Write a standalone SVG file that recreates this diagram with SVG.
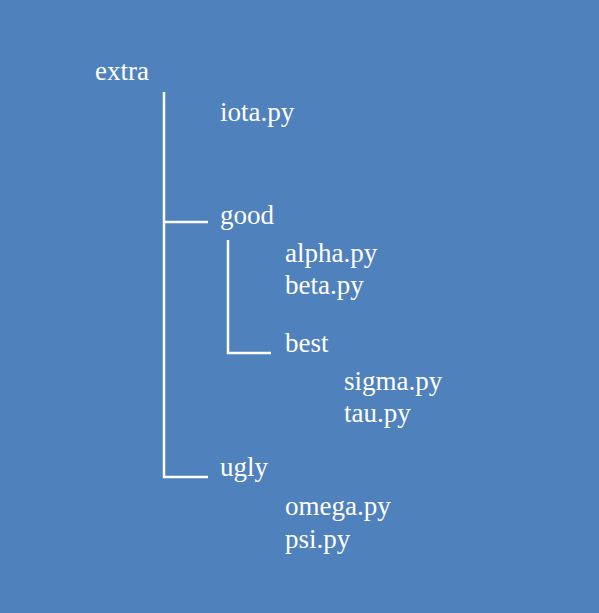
<svg xmlns="http://www.w3.org/2000/svg" width="599" height="613" viewBox="0 0 599 613">
<style>
text{font-family:"Liberation Serif","Times New Roman",serif;font-size:27px;fill:#fff}
.c{stroke:#fff;stroke-width:2.5;fill:none}
</style>
<rect width="599" height="613" fill="#4F81BD"/>
<g id="connectors">
<path class="c" d="M164,92V477H208M164,222H208"/>
<path class="c" d="M228,240V353H271"/>
</g>
<g id="extra"><text x="95" y="80">extra</text></g>
<g id="iota"><text x="220" y="121">iota.py</text></g>
<g id="good"><text x="220" y="224">good</text></g>
<g id="alpha"><text x="285" y="262">alpha.py</text></g>
<g id="beta"><text x="285" y="294">beta.py</text></g>
<g id="best"><text x="285" y="352">best</text></g>
<g id="sigma"><text x="344" y="390">sigma.py</text></g>
<g id="tau"><text x="344" y="422">tau.py</text></g>
<g id="ugly"><text x="220" y="476">ugly</text></g>
<g id="omega"><text x="285" y="515">omega.py</text></g>
<g id="psi"><text x="285" y="548">psi.py</text></g>
</svg>
